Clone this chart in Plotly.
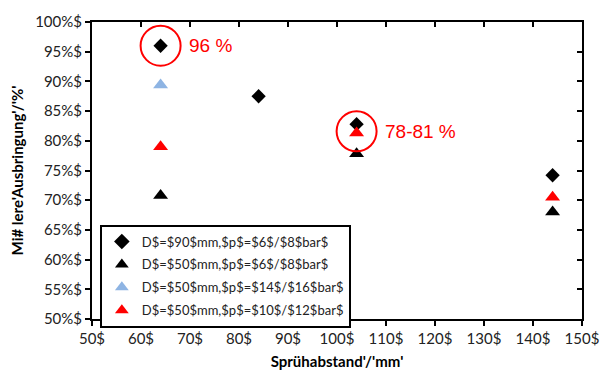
import plotly.graph_objects as go

# Data
names = ["D$=$90$mm,$p$=$6$/$8$bar$", "D$=$50$mm,$p$=$6$/$8$bar$",
         "D$=$50$mm,$p$=$14$/$16$bar$", "D$=$50$mm,$p$=$10$/$12$bar$"]
x_d90_6_8 = [64, 84, 104, 144]
y_d90_6_8 = [96.0, 87.5, 82.8, 74.2]
x_d50_6_8 = [64, 104, 144]
y_d50_6_8 = [70.8, 77.8, 68.0]
x_d50_14_16 = [64]
y_d50_14_16 = [89.4]
x_d50_10_12 = [64, 104, 144]
y_d50_10_12 = [79.0, 81.3, 70.5]

x_ticks = list(range(50, 151, 10))
x_ticktext = [f"{v}$" for v in x_ticks]
y_ticks = list(range(50, 101, 5))
y_ticktext = [f"{v}%$" for v in y_ticks]

highlights = [(64, 96.0, "96 %"), (104, 81.6, "78-81 %")]

tick_font = dict(family="Lato, Carlito, sans-serif", size=15, color="#222")

fig = go.Figure()
fig.add_trace(go.Scatter(x=x_d90_6_8, y=y_d90_6_8, mode="markers", name=names[0], legendgroup="a",
                         marker=dict(symbol="diamond", size=11, color="black")))
fig.add_trace(go.Scatter(x=x_d50_6_8, y=y_d50_6_8, mode="markers", name=names[1], legendgroup="b",
                         marker=dict(symbol="triangle-up", size=13, color="black")))
fig.add_trace(go.Scatter(x=x_d50_14_16, y=y_d50_14_16, mode="markers", name=names[2], legendgroup="c",
                         marker=dict(symbol="triangle-up", size=13, color="#8eb4e3")))
fig.add_trace(go.Scatter(x=x_d50_10_12, y=y_d50_10_12, mode="markers", name=names[3], legendgroup="d",
                         marker=dict(symbol="triangle-up", size=13, color="#ff0000")))

shapes = []
annotations = []
for hx, hy, txt in highlights:
    shapes.append(dict(type="circle", xref="x", yref="y", xsizemode="pixel", ysizemode="pixel",
                       xanchor=hx, yanchor=hy, x0=-20, x1=20, y0=-20, y1=20,
                       line=dict(color="red", width=2)))
    annotations.append(dict(x=hx, y=hy, xref="x", yref="y", text=txt, showarrow=False,
                            xanchor="left", xshift=26, yshift=0,
                            font=dict(family="Liberation Sans, Arial", size=19, color="red")))

fig.update_layout(
    width=611, height=387,
    margin=dict(l=92, r=25, t=14, b=68),
    paper_bgcolor="white", plot_bgcolor="white",
    showlegend=True,
    legend=dict(x=0.016, y=0.318, xanchor="left", yanchor="top",
                bordercolor="black", borderwidth=2, bgcolor="white",
                font=dict(family="Lato, sans-serif", size=13, color="#222"),
                tracegroupgap=3, itemsizing="constant", itemwidth=30),
    shapes=shapes, annotations=annotations,
    xaxis=dict(range=[50, 150], tickvals=x_ticks, ticktext=x_ticktext, ticks="outside",
               ticklen=5, tickwidth=2, tickcolor="black", showline=True, linecolor="black",
               linewidth=2, showgrid=False, zeroline=False, tickfont=tick_font,
               title=dict(text="Sprühabstand'/'mm'", standoff=10,
                          font=dict(family="Lato, Carlito, sans-serif", size=15, color="black", weight="bold"))),
    yaxis=dict(range=[50, 100], tickvals=y_ticks, ticktext=y_ticktext, ticks="outside",
               ticklen=5, tickwidth=2, tickcolor="black", showline=True, linecolor="black",
               linewidth=2, showgrid=False, zeroline=False, tickfont=tick_font,
               title=dict(text="Mi# lere'Ausbringung'/'%'", standoff=8,
                          font=dict(family="Lato, Carlito, sans-serif", size=15, color="black", weight="bold"))),
    xaxis2=dict(range=[50, 150], tickvals=x_ticks, overlaying="x", side="top", ticks="inside",
                ticklen=5, tickwidth=2, tickcolor="black", showticklabels=False, showline=True,
                linecolor="black", linewidth=2, showgrid=False, zeroline=False, matches="x"),
    yaxis2=dict(range=[50, 100], tickvals=y_ticks, overlaying="y", side="right", ticks="inside",
                ticklen=5, tickwidth=2, tickcolor="black", showticklabels=False, showline=True,
                linecolor="black", linewidth=2, showgrid=False, zeroline=False, matches="y"),
)
# invisible trace to activate secondary axes
fig.add_trace(go.Scatter(x=[50], y=[50], xaxis="x2", yaxis="y2", mode="markers",
                         marker=dict(opacity=0), showlegend=False, hoverinfo="skip"))

fig.write_html("out.html")
